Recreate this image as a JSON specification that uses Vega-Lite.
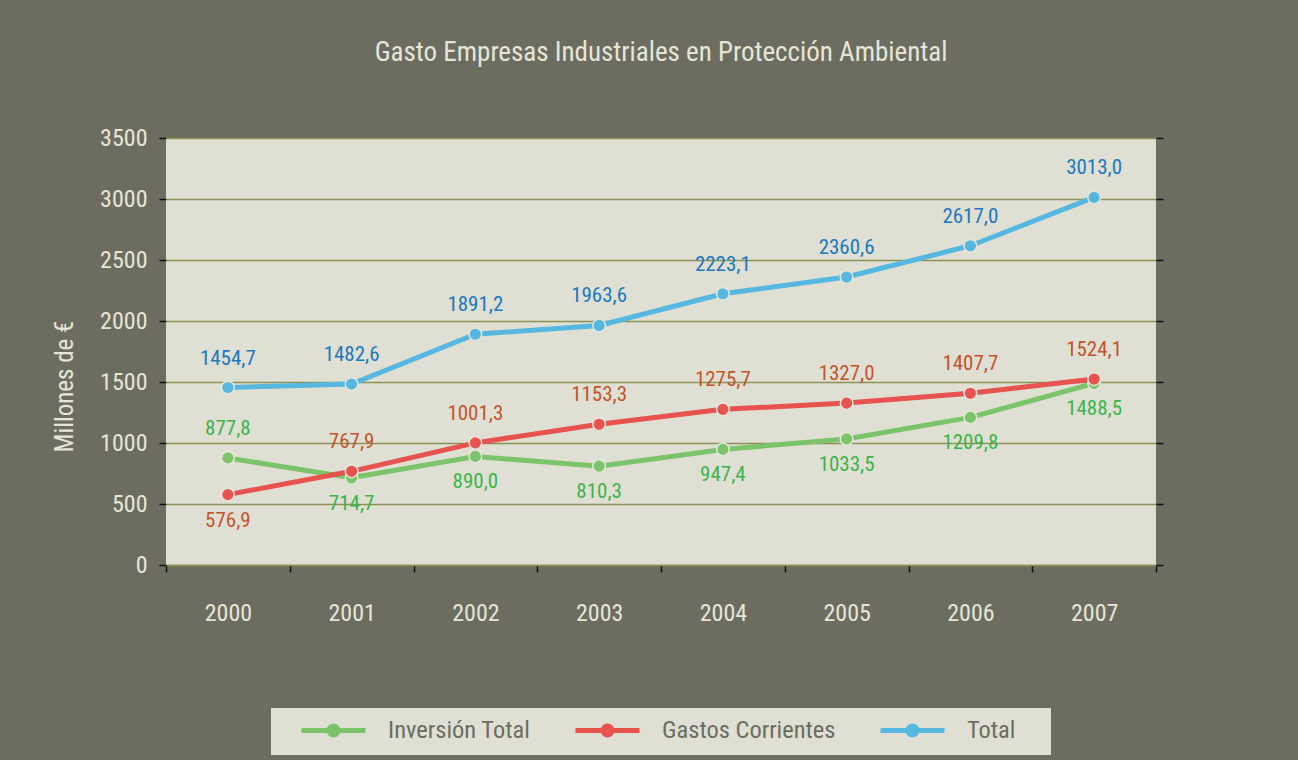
{
  "$schema": "https://vega.github.io/schema/vega-lite/v6.json",
  "width": 1298,
  "height": 760,
  "autosize": {"type": "fit", "contains": "padding"},
  "padding": {"left": 52, "right": 134, "top": 39, "bottom": 135},
  "background": "#6c6d60",
  "config": {
    "font": "'Roboto Condensed', 'DejaVu Sans Condensed', Roboto, sans-serif",
    "locale": {"number": {"decimal": ",", "thousands": ".", "grouping": [3], "currency": ["", " €"]}},
    "view": {"fill": "#dfe0d3", "stroke": null}
  },
  "title": {
    "text": "Gasto Empresas Industriales en Protección Ambiental",
    "fontSize": 27,
    "fontWeight": "normal",
    "color": "#e6e6d8",
    "offset": 59,
    "anchor": "middle",
    "frame": "group"
  },
  "data": {
    "values": [
      {"year": "2000", "series": "Inversión Total", "value": 877.8},
      {"year": "2001", "series": "Inversión Total", "value": 714.7},
      {"year": "2002", "series": "Inversión Total", "value": 890.0},
      {"year": "2003", "series": "Inversión Total", "value": 810.3},
      {"year": "2004", "series": "Inversión Total", "value": 947.4},
      {"year": "2005", "series": "Inversión Total", "value": 1033.5},
      {"year": "2006", "series": "Inversión Total", "value": 1209.8},
      {"year": "2007", "series": "Inversión Total", "value": 1488.5},
      {"year": "2000", "series": "Gastos Corrientes", "value": 576.9},
      {"year": "2001", "series": "Gastos Corrientes", "value": 767.9},
      {"year": "2002", "series": "Gastos Corrientes", "value": 1001.3},
      {"year": "2003", "series": "Gastos Corrientes", "value": 1153.3},
      {"year": "2004", "series": "Gastos Corrientes", "value": 1275.7},
      {"year": "2005", "series": "Gastos Corrientes", "value": 1327.0},
      {"year": "2006", "series": "Gastos Corrientes", "value": 1407.7},
      {"year": "2007", "series": "Gastos Corrientes", "value": 1524.1},
      {"year": "2000", "series": "Total", "value": 1454.7},
      {"year": "2001", "series": "Total", "value": 1482.6},
      {"year": "2002", "series": "Total", "value": 1891.2},
      {"year": "2003", "series": "Total", "value": 1963.6},
      {"year": "2004", "series": "Total", "value": 2223.1},
      {"year": "2005", "series": "Total", "value": 2360.6},
      {"year": "2006", "series": "Total", "value": 2617.0},
      {"year": "2007", "series": "Total", "value": 3013.0}
    ]
  },
  "encoding": {
    "x": {
      "field": "year",
      "type": "ordinal",
      "bandPosition": 0.5,
      "scale": {"type": "band", "paddingInner": 0, "paddingOuter": 0},
      "axis": {
        "title": null,
        "labelAngle": 0,
        "labelFontSize": 24,
        "labelColor": "#e6e6d8",
        "labelPadding": 29,
        "tickBand": "extent",
        "tickColor": "#111111",
        "tickWidth": 1.5,
        "tickSize": 7,
        "domainColor": "#8d9055",
        "domainWidth": 1.5,
        "grid": false
      }
    }
  },
  "resolve": {"axis": {"y": "independent"}},
  "layer": [
    {
      "mark": {"type": "line", "strokeWidth": 5},
      "encoding": {
        "y": {
          "field": "value",
          "type": "quantitative",
          "scale": {"domain": [0, 3500]},
          "axis": {
            "title": "Millones de €",
            "titleFontSize": 25,
            "titleFontWeight": "normal",
            "titleColor": "#e6e6d8",
            "titlePadding": 22,
            "titleY": 248,
            "values": [0, 500, 1000, 1500, 2000, 2500, 3000, 3500],
            "format": "d",
            "labelFontSize": 24,
            "labelColor": "#e6e6d8",
            "labelPadding": 12,
            "tickColor": "#111111",
            "tickSize": 7,
            "tickWidth": 1.5,
            "domain": false,
            "gridColor": "#8d9055",
            "gridWidth": 1.5
          }
        },
        "color": {
          "field": "series",
          "type": "nominal",
          "scale": {
            "domain": ["Inversión Total", "Gastos Corrientes", "Total"],
            "range": ["#7cc46b", "#e8524f", "#56b7e1"]
          },
          "legend": {
            "title": null,
            "orient": "none",
            "legendX": 105,
            "legendY": 570,
            "direction": "horizontal",
            "fillColor": "#dfe0d3",
            "padding": 10,
            "labelFontSize": 24.5,
            "labelColor": "#6c6d60",
            "labelLimit": 400,
            "symbolType": "M-3.2,0H-0.45M0.45,0H3.2M0.45,0A0.45,0.45,0,1,1,-0.45,0A0.45,0.45,0,1,1,0.45,0ZM11.8,0",
            "symbolSize": 400,
            "symbolStrokeWidth": 5,
            "symbolOffset": 40,
            "labelOffset": 42,
            "columnPadding": 24,
            "encode": {
              "symbols": {
                "update": {
                  "fill": {"scale": "color", "field": "value"},
                  "stroke": {"scale": "color", "field": "value"},
                  "strokeWidth": {"value": 5},
                  "opacity": {"value": 1}
                }
              }
            }
          }
        }
      }
    },
    {
      "mark": {"type": "point", "filled": true, "size": 160, "opacity": 1, "stroke": "#e6e7da", "strokeWidth": 1.5},
      "encoding": {
        "y": {
          "field": "value",
          "type": "quantitative",
          "axis": {
            "orient": "right",
            "title": null,
            "labels": false,
            "values": [0, 500, 1000, 1500, 2000, 2500, 3000, 3500],
            "tickColor": "#111111",
            "tickSize": 7,
            "tickWidth": 1.5,
            "domain": false,
            "grid": false
          }
        },
        "color": {"field": "series", "type": "nominal"}
      }
    },
    {
      "transform": [
        {"filter": "datum.series == 'Total' || (datum.series == 'Gastos Corrientes' && datum.year != '2000') || (datum.series == 'Inversión Total' && datum.year == '2000')"}
      ],
      "mark": {"type": "text", "dy": -29, "fontSize": 21},
      "encoding": {
        "y": {"field": "value", "type": "quantitative", "axis": null},
        "text": {"field": "value", "type": "quantitative", "format": ".1f"},
        "fill": {
          "field": "series",
          "type": "nominal",
          "scale": {
            "domain": ["Inversión Total", "Gastos Corrientes", "Total"],
            "range": ["#3cb44b", "#c4542b", "#1c78bf"]
          },
          "legend": null
        }
      }
    },
    {
      "transform": [
        {"filter": "!(datum.series == 'Total' || (datum.series == 'Gastos Corrientes' && datum.year != '2000') || (datum.series == 'Inversión Total' && datum.year == '2000'))"}
      ],
      "mark": {"type": "text", "dy": 26, "fontSize": 21},
      "encoding": {
        "y": {"field": "value", "type": "quantitative", "axis": null},
        "text": {"field": "value", "type": "quantitative", "format": ".1f"},
        "fill": {
          "field": "series",
          "type": "nominal",
          "legend": null
        }
      }
    }
  ]
}
